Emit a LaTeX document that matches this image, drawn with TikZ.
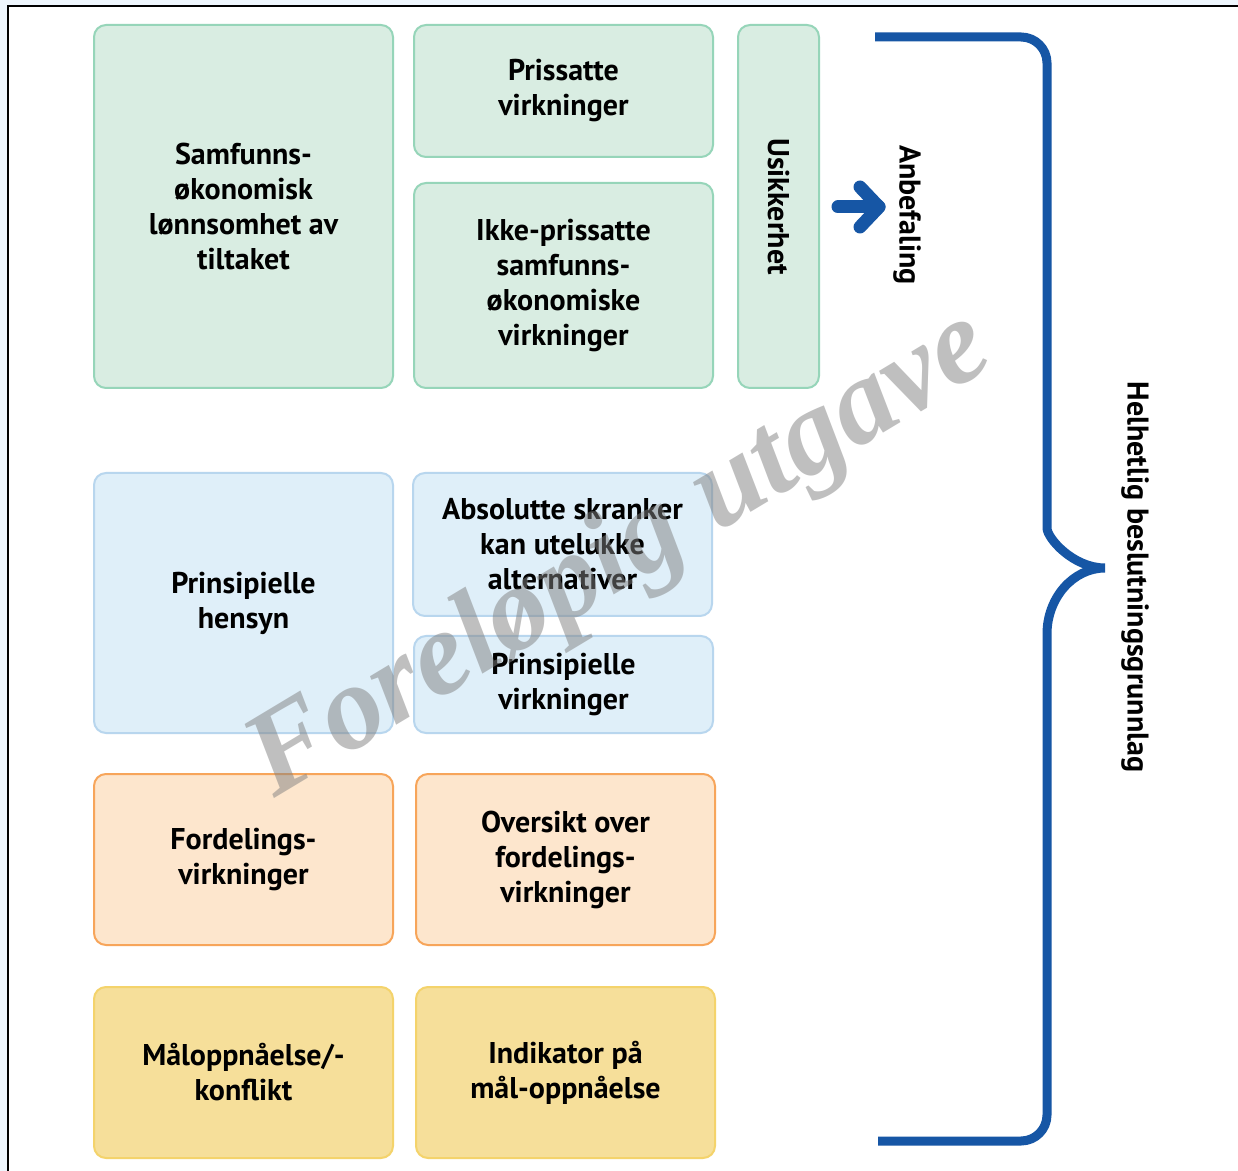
\documentclass[tikz,border=0pt]{standalone}
\usepackage{fontspec}
\setmainfont{PT Sans}
\newfontfamily\wmfont{Liberation Serif}
\definecolor{pagebg}{HTML}{EEF6FD}
\definecolor{grfill}{HTML}{D9EDE2}
\definecolor{grline}{HTML}{96D5B9}
\definecolor{blfill}{HTML}{DFEFF9}
\definecolor{blline}{HTML}{B8D6EE}
\definecolor{orfill}{HTML}{FDE6CD}
\definecolor{orline}{HTML}{F7A55A}
\definecolor{yefill}{HTML}{F6DF9A}
\definecolor{yeline}{HTML}{F4D36B}
\definecolor{bracecol}{HTML}{1656A5}
\begin{document}
\begin{tikzpicture}[x=0.5pt,y=-0.5pt,
    box/.style={draw, line width=1pt, rounded corners=6pt, align=center, inner sep=0pt,
        font=\bfseries\fontsize{15}{17.5}\selectfont},
    wide/.style={minimum width=149.5pt},
    okbox/.style={box, fill=grfill, draw=grline},
    prinbox/.style={box, fill=blfill, draw=blline},
    fordbox/.style={box, fill=orfill, draw=orline},
    malbox/.style={box, fill=yefill, draw=yeline},
    label/.style={font=\bfseries\fontsize{15}{17.5}\selectfont, rotate=-90},
    brace/.style={draw=bracecol, line width=4.5pt},
    pil/.style={draw=bracecol, line width=6.5pt, line cap=round, line join=round}]

    \useasboundingbox (0,0) rectangle (1238,1171);
    \fill[pagebg] (0,0) rectangle (1238,1171);
    \fill[white] (8,6) rectangle (1238,1171);
    \draw[line width=1pt] (8,1171) -- (8,6) -- (1238,6);

    % samfunnsoekonomisk analyse
    \node[okbox, wide, minimum height=181.5pt] (A) at (243.5,206.5) {Samfunns-\\økonomisk\\lønnsomhet av\\tiltaket};
    \node[okbox, wide, minimum height=66pt] (B) at (563.5,91) {Prissatte\\virkninger};
    \node[okbox, wide, minimum height=102.5pt] (C) at (563.5,285.5) {Ikke-prissatte\\samfunns-\\økonomiske\\virkninger};
    \node[okbox, rotate=-90, minimum width=181.5pt, minimum height=40.5pt] (D) at (778.5,206.5) {Usikkerhet};

    % prinsipielle hensyn
    \node[prinbox, wide, minimum height=130pt] (E) at (243.5,603) {Prinsipielle\\hensyn};
    \node[prinbox, wide, minimum height=71.5pt] (F) at (562.5,544.5) {Absolutte skranker\\kan utelukke\\alternativer};
    \node[prinbox, wide, minimum height=48.5pt] (G) at (563.5,684.5) {Prinsipielle\\virkninger};

    % fordeling
    \node[fordbox, wide, minimum height=85.5pt] (H) at (243.5,859.5) {Fordelings-\\virkninger};
    \node[fordbox, wide, minimum height=85.5pt] (I) at (565.5,859.5) {Oversikt over\\fordelings-\\virkninger};

    % maaloppnaaelse
    \node[malbox, wide, minimum height=85.5pt] (J) at (243.5,1072.5) {Måloppnåelse/-\\konflikt};
    \node[malbox, wide, minimum height=85.5pt] (K) at (565.5,1072.5) {Indikator på\\mål-oppnåelse};

    % anbefaling
    \node[label] (L) at (907,215) {Anbefaling};
    \coordinate (pS) at (838,207);
    \coordinate (pE) at (879,207);
    \draw[pil] (pS) -- (pE);
    \draw[pil] (pE) ++(-19,-20) -- (pE) -- ++(-19,20);

    % klamme
    \coordinate (kT) at (875,37);
    \coordinate (kTip) at (1105,568);
    \coordinate (kB) at (878,1141);
    \draw[brace] (kT) [rounded corners=13pt] -- (1047,37) -- (1047,502) [sharp corners]
        .. controls (1047,538) and (1073,568) .. (kTip)
        .. controls (1073,568) and (1047,598) .. (1047,634)
        [rounded corners=13pt] -- (1047,1141) -- (kB);
    \node[label] (M) at (1135,577) {Helhetlig beslutningsgrunnlag};

    \node[rotate=31, text=gray, text opacity=0.5, font=\wmfont\bfseries\itshape\fontsize{60}{60}\selectfont] (W) at (621,557) {Foreløpig utgave};

\end{tikzpicture}
\end{document}
